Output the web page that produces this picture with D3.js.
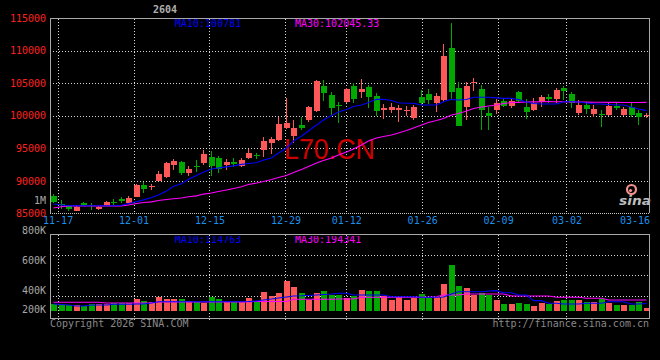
<!DOCTYPE html>
<html><head><meta charset="utf-8">
<script src="https://cdn.jsdelivr.net/npm/d3@7"></script>
<style>html,body{margin:0;padding:0;background:#000;}svg{display:block}</style>
</head><body><svg id="c" width="660" height="360"></svg>
<script>
const dates = ["11-14","11-17","11-18","11-19","11-20","11-21","11-24","11-25","11-26","11-27","11-28",
"12-01","12-02","12-03","12-04","12-05","12-08","12-09","12-10","12-11","12-12",
"12-15","12-16","12-17","12-18","12-19","12-22","12-23","12-24","12-25","12-26",
"12-29","12-30","12-31","01-05","01-06","01-07","01-08","01-09",
"01-12","01-13","01-14","01-15","01-16","01-19","01-20","01-21","01-22","01-23",
"01-26","01-27","01-28","01-29","01-30","02-02","02-03","02-04","02-05","02-06",
"02-09","02-10","02-11","02-12","02-13","02-24","02-25","02-26","02-27",
"03-02","03-03","03-04","03-05","03-06","03-09","03-10","03-11","03-12","03-13","03-16","03-17"];

const openP = [87720,86450,86140,85420,86650,86340,85640,86140,86800,87170,
86650,87570,89370,89140,90030,90550,92440,92940,91160,92360,
92790,93620,93560,92390,92850,92280,93460,94050,94740,95860,
96270,98160,96890,98580,99340,100770,104560,103180,101720,102150,
104560,103640,104360,103030,100880,100880,100880,100730,99600,102870,
103330,101910,102410,110400,104210,101290,104980,104100,100370,100880,
102310,101490,103690,101390,100880,102150,102920,102520,104210,103330,
100370,101650,100270,100270,100110,101490,100110,101290,100460,99960];
const highP = [87980,87060,86300,86100,86800,86560,86100,86900,87170,87480,
87680,89520,89870,89520,91510,92940,93360,93050,92330,93200,
94740,94640,93820,93310,93560,93500,94850,94320,96780,96690,
99760,102670,99340,99860,101490,105480,105480,103690,102150,104210,
104980,105590,104720,103440,101800,101910,101650,101490,101650,103950,
104060,103530,111010,114190,105220,105220,105840,104720,101290,102520,
102520,102570,103800,102570,102770,103180,103330,104300,104560,103690,
102410,102150,101650,100880,101910,102000,101390,101910,100880,100370];
const lowP = [86600,85680,85450,85400,86200,85530,85550,86100,86300,86560,
86600,87500,88180,88600,90000,90390,91670,90900,90750,91410,
92440,90750,91250,91670,92080,92100,93310,93360,93710,94120,
96170,98010,95860,97810,99090,100620,102310,99960,98840,102000,
101910,102670,101140,99960,99450,100460,99080,100000,99340,101650,
101800,100620,102150,102410,98420,99340,103840,97810,97810,100270,
101290,101140,102150,99500,100730,101390,101910,101910,102410,101230,
100110,100270,99850,98320,100000,100880,99960,99850,98580,99600];
const closeP = [86800,86300,85640,86030,86340,86140,86030,86710,86650,86960,
87420,89370,88750,89290,91050,92700,93050,91160,91780,92210,
94120,92280,91780,92850,92540,93200,94320,93890,96120,96430,
98730,98930,98160,98160,101390,105380,103440,101140,101570,104060,
102520,104060,102830,100770,101230,101390,101230,100880,101290,101880,
102410,103030,109170,103690,98420,104560,105220,100880,99960,101910,
101490,102260,102310,100620,101910,102920,102570,103950,103840,102000,
101650,100990,101030,100160,101490,101140,100990,100110,99760,100060];
const volume = [106000,106000,91000,91000,76000,106000,106000,106000,126000,117000,
117000,182000,152000,132000,208000,182000,182000,178000,152000,132000,
117000,208000,182000,141000,141000,141000,202000,141000,293000,228000,
278000,456000,369000,278000,167000,278000,309000,243000,243000,193000,
228000,319000,304000,304000,228000,167000,208000,167000,193000,258000,
202000,208000,410000,699000,380000,350000,239000,269000,243000,167000,
106000,106000,122000,106000,76000,117000,106000,152000,167000,167000,
167000,137000,137000,182000,117000,91000,91000,91000,137000,50000];
const ma10 = [86450,86300,86190,86190,86190,86190,86190,86190,86190,86270,
86530,86800,87090,87450,87830,88440,89170,89570,90240,90820,
91360,91820,91980,92160,92310,92540,92670,92790,93200,93510,
94280,95050,96120,96890,97660,98580,99340,100030,100570,100960,
101420,101650,102030,102520,102520,102340,102000,101910,101910,101650,
101650,101650,102150,102520,102410,102490,102830,102830,102830,102750,
102670,102670,102490,102110,101880,101800,101800,101800,102150,102150,
102110,101950,101850,101800,101720,101650,101650,101340,101030,100781];
const ma30 = [85840,86040,86140,86140,86140,86140,86140,86140,86140,86140,
86300,86530,86680,86790,86990,87140,87270,87370,87560,87710,
87980,88140,88370,88600,88830,89100,89440,89670,89900,90210,
90520,90820,91280,91750,92210,92740,93130,93510,93970,94430,
94890,95510,96120,96580,96810,97040,97350,97730,98120,98580,
98960,99270,99570,100110,100340,100720,101110,101340,101490,101650,
101880,102030,102060,102100,102130,102150,102160,102150,102140,102130,
102110,102090,102080,102070,102060,102050,102040,102030,102040,102045.33];
const volMa10 = [106000,99000,91000,76000,76000,91000,91000,91000,102000,102000,
102000,106000,106000,122000,141000,141000,141000,141000,141000,141000,
141000,141000,141000,141000,141000,141000,144000,152000,167000,182000,
198000,213000,228000,231000,236000,243000,251000,258000,269000,269000,
243000,243000,243000,243000,243000,217000,217000,217000,217000,208000,
208000,208000,213000,258000,293000,293000,293000,293000,304000,309000,
278000,278000,243000,243000,157000,157000,117000,117000,106000,106000,
106000,117000,117000,117000,141000,141000,141000,106000,106000,114763];
const volMa30 = [132000,132000,132000,132000,132000,132000,132000,122000,122000,122000,
122000,122000,122000,122000,137000,137000,137000,137000,137000,137000,
137000,137000,137000,137000,137000,137000,137000,144000,144000,144000,
144000,144000,178000,178000,178000,178000,178000,178000,182000,182000,
182000,208000,208000,208000,208000,208000,208000,208000,208000,208000,
208000,217000,243000,243000,243000,258000,258000,258000,258000,258000,
258000,228000,228000,228000,228000,228000,228000,208000,208000,208000,
208000,193000,193000,193000,167000,167000,167000,167000,167000,167000];
const dateTicks = ["11-17","12-01","12-15","12-29","01-12","01-26","02-09","03-02","03-16"];
const priceTicks = [85000,90000,95000,100000,105000,110000,115000];
const volTicks = [200000,400000,600000,800000,1000000];
const title = "2604";
const legendPrice = ["MA10:100781","MA30:102045.33"];
const legendVol = ["MA10:114763","MA30:194341"];

const RED = "#ff5858", GREEN = "#00a800", GRID = "#d8d8d8", BORDER = "#a8a8a8";
const MONO = "'DejaVu Sans Mono', monospace";
const svg = d3.select("#c");
svg.append("rect").attr("width",660).attr("height",360).attr("fill","#000");

const xBand = d3.scaleBand().domain(dates).range([49.5, 649.5]).paddingInner(0.2).paddingOuter(0.1);
const xPoint = d3.scalePoint().domain(dates).range([50, 650]);
const yPrice = d3.scaleLinear().domain([85000,115000]).range([213.5, 18]);
const yVol = d3.scaleLinear().domain([0, 1170400]).range([311, 234]);
const yVolLabel = d3.scaleLinear().domain([200000, 1000000]).range([320.7, 200.7]);
const cx = d => Math.round(xBand(d)) + 3.5;
const crisp = v => Math.round(v) + 0.5;

// grid
const grid = svg.append("g").attr("stroke", GRID).attr("stroke-dasharray","1,2").attr("shape-rendering","crispEdges");
priceTicks.filter(t => t > 85000 && t < 115000).forEach(t => {
  grid.append("line").attr("x1",50).attr("x2",649).attr("y1",crisp(yPrice(t))).attr("y2",crisp(yPrice(t)));
});
dateTicks.slice(0,-1).forEach(d => {
  const x = crisp(xPoint(d));
  grid.append("line").attr("x1",x).attr("x2",x).attr("y1",19).attr("y2",213);
  grid.append("line").attr("x1",x).attr("x2",x).attr("y1",235).attr("y2",320);
});
[1,2,3].forEach(k => {
  const y = crisp(234.3 + 20.4*k);
  grid.append("line").attr("x1",50).attr("x2",649).attr("y1",y).attr("y2",y);
});
svg.append("line").attr("x1",50).attr("x2",649).attr("y1",213.5).attr("y2",213.5)
  .attr("stroke","#c8c8c8").attr("stroke-dasharray","1,1").attr("shape-rendering","crispEdges");

// watermark
svg.append("text").attr("x",284).attr("y",158.5).attr("font-family","'Liberation Sans', Arial, sans-serif")
  .attr("font-size",29).attr("fill","#cc0000").attr("textLength",91).attr("lengthAdjust","spacingAndGlyphs").text("L70.CN");

// sina logo
const logo = svg.append("g");
logo.append("circle").attr("cx",631.5).attr("cy",189.5).attr("r",4.5).attr("fill","none").attr("stroke","#f49090").attr("stroke-width",2.2);
logo.append("circle").attr("cx",630.5).attr("cy",190.5).attr("r",1.6).attr("fill","#f49090");
logo.append("text").attr("x",619).attr("y",205).attr("font-family","'DejaVu Sans', sans-serif").attr("font-style","italic")
  .attr("font-weight","bold").attr("font-size",13).attr("fill","#bdbdbd").attr("textLength",32).attr("lengthAdjust","spacingAndGlyphs").text("sina");

// candles
const idx = d3.range(dates.length);
const up = i => closeP[i] >= openP[i];
const cg = svg.append("g").attr("shape-rendering","crispEdges");
cg.selectAll("line.w").data(idx).join("line")
  .attr("x1", i => cx(dates[i])).attr("x2", i => cx(dates[i]))
  .attr("y1", i => yPrice(highP[i])).attr("y2", i => yPrice(lowP[i]))
  .attr("stroke", i => up(i) ? RED : GREEN);
cg.selectAll("rect.b").data(idx).join("rect")
  .attr("x", i => Math.round(xBand(dates[i]))+0.5).attr("width", xBand.bandwidth())
  .attr("y", i => yPrice(Math.max(openP[i], closeP[i])))
  .attr("height", i => Math.max(1, yPrice(Math.min(openP[i], closeP[i])) - yPrice(Math.max(openP[i], closeP[i]))))
  .attr("fill", i => up(i) ? RED : GREEN);

// MA lines price
const lineP = arr => d3.line().x((v,i) => cx(dates[i])).y(v => yPrice(v))(arr);
svg.append("path").attr("d", lineP(ma30)).attr("fill","none").attr("stroke","#ff00ff").attr("stroke-width",1.1);
svg.append("path").attr("d", lineP(ma10)).attr("fill","none").attr("stroke","#0000ff").attr("stroke-width",1.1);

// volume bars
svg.append("g").attr("shape-rendering","crispEdges").selectAll("rect").data(idx).join("rect")
  .attr("x", i => Math.round(xBand(dates[i]))+0.5).attr("width", xBand.bandwidth())
  .attr("y", i => yVol(volume[i])).attr("height", i => yVol(0) - yVol(volume[i]))
  .attr("fill", i => up(i) ? RED : GREEN);
const lineV = arr => d3.line().x((v,i) => cx(dates[i])).y(v => yVol(v))(arr);
svg.append("path").attr("d", lineV(volMa30)).attr("fill","none").attr("stroke","#ff00ff").attr("stroke-width",1.1);
svg.append("path").attr("d", lineV(volMa10)).attr("fill","none").attr("stroke","#0000ff").attr("stroke-width",1.1);

// borders
const bd = svg.append("g").attr("stroke",BORDER).attr("fill","none").attr("shape-rendering","crispEdges");
bd.append("path").attr("d","M50.5,213V18.5H649.5V213");
bd.append("rect").attr("x",50.5).attr("y",234.5).attr("width",599).attr("height",84);

// price axis
const pa = svg.append("g").attr("transform","translate(46,0)")
  .call(d3.axisLeft(yPrice).tickValues(priceTicks).tickFormat(d3.format("d")).tickSize(0).tickPadding(0));
pa.select(".domain").remove();
pa.selectAll("text").attr("fill","#ff2020").attr("font-family",MONO).attr("font-size",10);

// volume axis labels
const va = svg.append("g").attr("transform","translate(46,0)")
  .call(d3.axisLeft(yVolLabel).tickValues(volTicks).tickFormat(d => d >= 1e6 ? (d/1e6)+"M" : (d/1000)+"K").tickSize(0).tickPadding(0));
va.select(".domain").remove();
va.selectAll(".tick").attr("transform", d => `translate(0,${Math.min(yVolLabel(d), 310)})`);
va.selectAll("text").attr("fill","#a8a8a8").attr("font-family",MONO).attr("font-size",10);

// x axis
const xa = svg.append("g").attr("transform","translate(0,217)")
  .call(d3.axisBottom(xPoint).tickValues(dateTicks).tickSize(0).tickPadding(0));
xa.select(".domain").remove();
xa.selectAll("text").attr("fill","#1e8fe8").attr("font-family",MONO).attr("font-size",10);
xa.selectAll(".tick").filter(d => xPoint(d) + 15 > 650).select("text")
  .attr("text-anchor","end").attr("x", d => 649.5 - xPoint(d));

// title & legends
svg.append("text").attr("x",165).attr("y",13).attr("text-anchor","middle").attr("font-family",MONO)
  .attr("font-weight","bold").attr("font-size",10).attr("fill","#b0b0b0").text(title);
svg.append("text").attr("x",175).attr("y",27).attr("font-family",MONO).attr("font-size",10).attr("fill","#0000ff").text(legendPrice[0]);
svg.append("text").attr("x",295).attr("y",27).attr("font-family",MONO).attr("font-size",10).attr("fill","#ff00ff").text(legendPrice[1]);
svg.append("clipPath").attr("id","vclip").append("rect").attr("x",50).attr("y",236).attr("width",600).attr("height",20);
const vl = svg.append("g").attr("clip-path","url(#vclip)");
vl.append("text").attr("x",175).attr("y",242.5).attr("font-family",MONO).attr("font-size",10).attr("fill","#0000ff").text(legendVol[0]);
vl.append("text").attr("x",295).attr("y",242.5).attr("font-family",MONO).attr("font-size",10).attr("fill","#ff00ff").text(legendVol[1]);

svg.append("text").attr("x",50).attr("y",327).attr("font-family",MONO).attr("font-size",10).attr("fill","#888").text("Copyright 2026 SINA.COM");
svg.append("text").attr("x",649).attr("y",327).attr("text-anchor","end").attr("font-family",MONO).attr("font-size",10).attr("fill","#888").text("http://finance.sina.com.cn");
</script></body></html>
